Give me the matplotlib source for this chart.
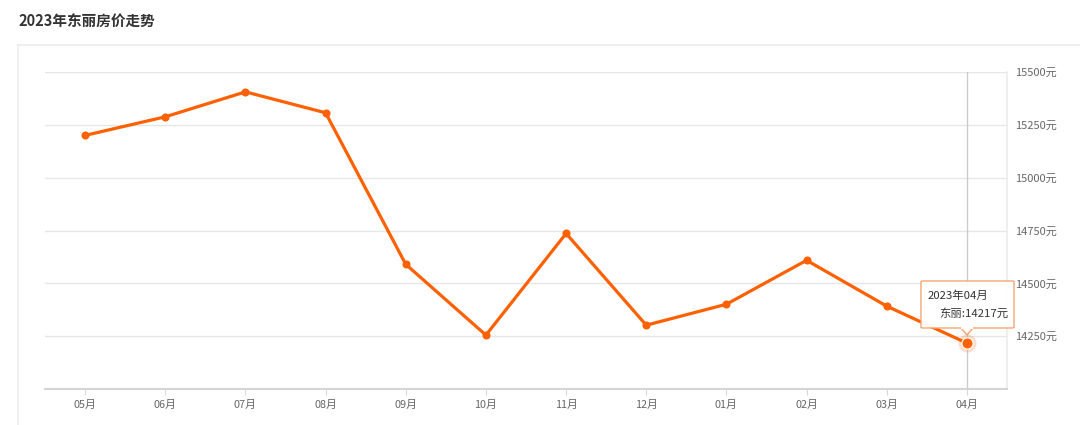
import matplotlib
matplotlib.use("Agg")
import matplotlib.pyplot as plt
from matplotlib.patches import FancyBboxPatch, Polygon
from matplotlib.lines import Line2D

plt.rcParams['font.family'] = ['Noto Sans CJK SC', 'DejaVu Sans']

months = ["05月", "06月", "07月", "08月", "09月", "10月", "11月", "12月", "01月", "02月", "03月", "04月"]
prices = [15200, 15288, 15406, 15307, 14590, 14255, 14736, 14302, 14401, 14609, 14392, 14217]
yticks = [14250, 14500, 14750, 15000, 15250, 15500]
title = "2023年东丽房价走势"
tooltip_title = "2023年04月"
tooltip_text = "东丽:14217元"

W, H = 1080, 425
fig = plt.figure(figsize=(W / 100, H / 100), dpi=100)
fig.patch.set_facecolor("white")

# card border
fig.add_artist(Line2D([18 / W, 1.0], [1 - 45 / H, 1 - 45 / H], color="#ececec", lw=1.2))
fig.add_artist(Line2D([18 / W, 18 / W], [0, 1 - 45 / H], color="#ececec", lw=1.2))

fig.text(18 / W, 1 - 22 / H, title, fontsize=10.5, fontweight="bold", color="#333333",
         va="center", ha="left")

ax = fig.add_axes([45 / W, 1 - 389 / H, (1007 - 45) / W, (389 - 72) / H])
x = list(range(len(months)))
color = "#ff6000"
ax.plot(x, prices, color=color, lw=2.3, marker="o", ms=4.8, zorder=3)
ax.set_xlim(-0.5, len(months) - 0.5)
ax.set_ylim(14000, 15500)
ax.set_xticks(x)
ax.set_xticklabels(months, fontsize=7.8, color="#666666")
ax.yaxis.tick_right()
ax.set_yticks(yticks)
ax.set_yticklabels([f"{v}元" for v in yticks], fontsize=8, color="#666666")
ax.tick_params(axis="y", length=0, pad=6)
ax.tick_params(axis="x", length=4, color="#d8d8d8", pad=4)
ax.grid(axis="y", color="#e6e6e6", lw=1)
ax.set_axisbelow(True)
for s in ["top", "left"]:
    ax.spines[s].set_visible(False)
ax.spines["bottom"].set_color("#d4d4d4")
ax.spines["bottom"].set_linewidth(1.5)
ax.spines["right"].set_color("#ececec")
ax.spines["right"].set_linewidth(1.2)

# tooltip axis pointer
last = len(months) - 1
ax.axvline(last, color="#cccccc", lw=1, zorder=1)
ax.plot([last], [prices[-1]], marker="o", ms=13, color=color, alpha=0.2, zorder=4, mec="none")
ax.plot([last], [prices[-1]], marker="o", ms=8, color=color, zorder=5, mec="white", mew=0.8)

# tooltip box in figure pixels
bx0, by0, bx1, by1 = 921, 281, 1014, 328
box = FancyBboxPatch((bx0 / W, 1 - by1 / H), (bx1 - bx0) / W, (by1 - by0) / H,
                     boxstyle="round,pad=0,rounding_size=0.002", transform=fig.transFigure,
                     facecolor="white", edgecolor="#f5a06a", lw=1.0, alpha=0.95, zorder=10)
fig.add_artist(box)
tri = Polygon([((961) / W, 1 - by1 / H), (967 / W, 1 - 335 / H), (973 / W, 1 - by1 / H)],
              closed=True, transform=fig.transFigure, facecolor="white",
              edgecolor="#f5a06a", lw=1.0, zorder=11)
fig.add_artist(tri)
fig.add_artist(Line2D([962 / W, 972 / W], [1 - by1 / H, 1 - by1 / H], color="white", lw=1.5, zorder=12))
fig.text(928 / W, 1 - 296 / H, tooltip_title, fontsize=8.2, color="#333333", va="center", ha="left", zorder=13)
fig.text(1008 / W, 1 - 313 / H, tooltip_text, fontsize=8.2, color="#333333", va="center", ha="right", zorder=13)

fig.savefig("out.png", dpi=100, facecolor="white")
